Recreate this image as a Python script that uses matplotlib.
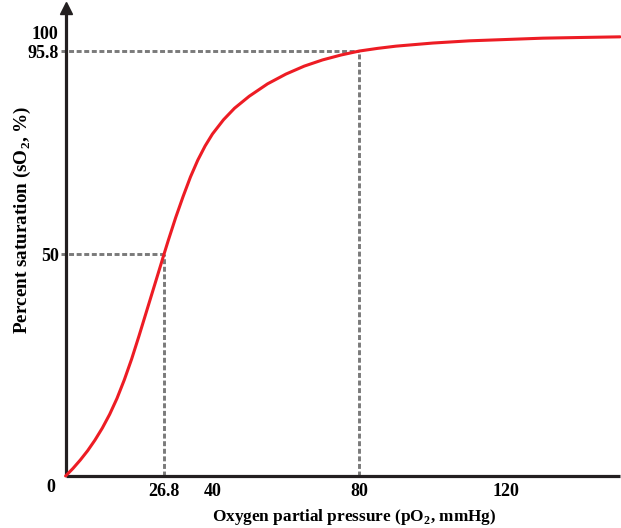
import matplotlib
matplotlib.use("Agg")
import matplotlib.pyplot as plt

# oxygen dissociation curve
po2 = [0, 2, 4, 6, 8, 10, 12, 14, 16, 18, 20, 22, 24, 26, 26.8, 28, 30, 32,
       34, 36, 38, 40, 43, 46, 50, 55, 60, 65, 70, 75, 80, 85, 90, 100, 110,
       120, 130, 140, 151]
so2 = [0, 1.7, 3.6, 5.7, 8.1, 10.8, 13.9, 17.5, 21.7, 26.4, 31.6, 37.0, 42.4,
       47.8, 50, 53.2, 58.3, 63.0, 67.4, 71.2, 74.4, 77.1, 80.3, 82.9, 85.6,
       88.4, 90.6, 92.4, 93.8, 94.9, 95.8, 96.4, 96.9, 97.6, 98.1, 98.4, 98.7,
       98.85, 99.0]

# marked points (P50 and arterial)
mark_x = [26.8, 80]
mark_y = [50, 95.8]

xticks = [26.8, 40, 80, 120]
xtick_labels = ["26.8", "40", "80", "120"]
yticks = [50, 95.8, 100]
ytick_labels = ["50", "95.8", "100"]

plt.rcParams['font.family'] = ['Liberation Serif', 'DejaVu Serif']
plt.rcParams['font.weight'] = 'bold'
plt.rcParams['mathtext.fontset'] = 'custom'
plt.rcParams['mathtext.rm'] = 'Liberation Serif:bold'
plt.rcParams['mathtext.bf'] = 'Liberation Serif:bold'

W, H = 621, 528
fig = plt.figure(figsize=(W / 100, H / 100), dpi=100)
x0, y0 = 65.6, 52
ax = fig.add_axes([x0 / W, y0 / H, (620 - x0) / W, 468 / H])
ax.set_xlim(0, 151)
ax.set_ylim(0, 105.5)

for s in ['top', 'right']:
    ax.spines[s].set_visible(False)
for s in ['left', 'bottom']:
    ax.spines[s].set_linewidth(2.3)
    ax.spines[s].set_color('#231f20')
    ax.spines[s].set_capstyle('butt')

# arrow head on y axis
ax.plot(0, 1, marker='^', ms=8, color='#231f20', transform=ax.get_xaxis_transform(),
        clip_on=False, zorder=5)

# guide lines
dash = dict(color='#7a7a7a', lw=2.1, dashes=(1.7, 0.9), clip_on=False, zorder=1)
for mx, my in zip(mark_x, mark_y):
    ax.plot([-1.2, mx], [my, my], **dash)
    ax.plot([mx, mx], [0, my], **dash)

ax.plot(po2, so2, color='#ed1c24', lw=2.2, zorder=3, clip_on=False,
        solid_capstyle='round', solid_joinstyle='round')

ax.set_xticks(xticks)
ax.set_xticklabels(xtick_labels)
ax.set_yticks(yticks)
ax.set_yticklabels(ytick_labels)
ax.tick_params(length=0, labelsize=13, pad=5)
for lab in ax.get_xticklabels() + ax.get_yticklabels():
    lab.set_fontweight('bold')

fig.text(51 / W, 1 - 488 / H, "0", fontsize=13, fontweight='bold',
         ha='center', va='center')
fig.text(354 / W, 1 - 517 / H, r"Oxygen partial pressure (pO$_2$, mmHg)",
         fontsize=12.4, fontweight='bold', ha='center', va='center')
fig.text(22 / W, 1 - 220 / H, r"Percent saturation (sO$_2$, %)",
         fontsize=13.8, fontweight='bold', ha='center', va='center', rotation=90)

fig.savefig("out.png", dpi=100)
